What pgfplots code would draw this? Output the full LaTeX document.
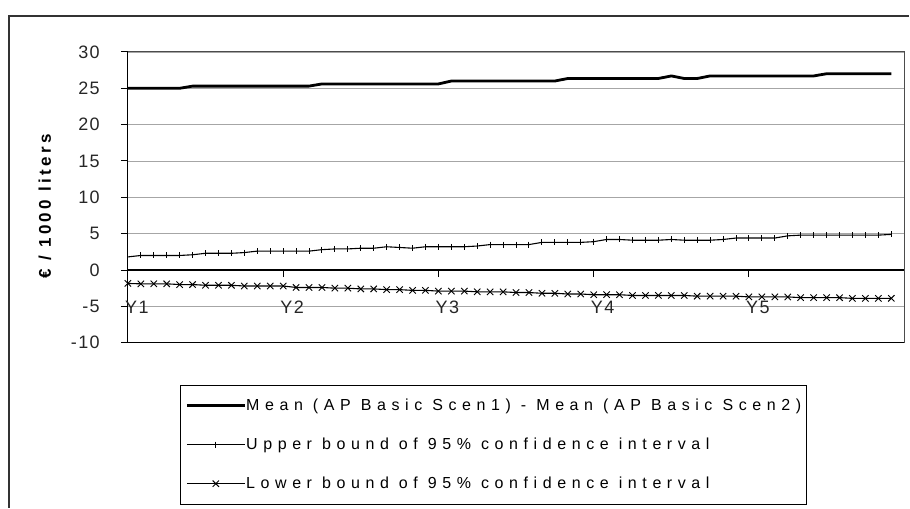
\documentclass[border=0pt]{standalone}
\usepackage{fontspec}
\setmainfont{Liberation Sans}
\newfontfamily\lsfont[LetterSpace=35]{Liberation Sans}
\newfontfamily\tkfont[LetterSpace=8]{Liberation Sans}
\newfontfamily\ylfont[LetterSpace=20]{Liberation Sans}
\usepackage{pgfplots}
\usepackage{pgfplotstable}
\pgfplotsset{compat=1.18}

\pgfplotstableread{
i mean upper lower
0 25.0 1.8 -1.85
1 25.0 2.0 -1.9
2 25.0 2.0 -1.9
3 25.0 2.0 -1.9
4 25.0 2.0 -2.0
5 25.3 2.1 -2.0
6 25.3 2.3 -2.1
7 25.3 2.3 -2.1
8 25.3 2.3 -2.1
9 25.3 2.4 -2.2
10 25.3 2.6 -2.2
11 25.3 2.6 -2.2
12 25.3 2.6 -2.2
13 25.3 2.6 -2.4
14 25.3 2.6 -2.4
15 25.6 2.8 -2.4
16 25.6 2.9 -2.5
17 25.6 2.9 -2.5
18 25.6 3.0 -2.6
19 25.6 3.0 -2.6
20 25.6 3.2 -2.7
21 25.6 3.1 -2.7
22 25.6 3.0 -2.8
23 25.6 3.2 -2.8
24 25.6 3.2 -2.9
25 26.0 3.2 -2.9
26 26.0 3.2 -2.9
27 26.0 3.3 -3.0
28 26.0 3.5 -3.0
29 26.0 3.5 -3.0
30 26.0 3.5 -3.1
31 26.0 3.5 -3.1
32 26.0 3.8 -3.2
33 26.0 3.8 -3.2
34 26.35 3.8 -3.3
35 26.35 3.8 -3.3
36 26.35 3.9 -3.4
37 26.35 4.2 -3.4
38 26.35 4.2 -3.4
39 26.35 4.1 -3.5
40 26.35 4.1 -3.5
41 26.35 4.1 -3.5
42 26.7 4.2 -3.5
43 26.35 4.1 -3.5
44 26.35 4.1 -3.6
45 26.7 4.1 -3.6
46 26.7 4.2 -3.6
47 26.7 4.4 -3.6
48 26.7 4.4 -3.7
49 26.7 4.4 -3.7
50 26.7 4.4 -3.7
51 26.7 4.7 -3.7
52 26.7 4.8 -3.8
53 26.7 4.8 -3.8
54 27.0 4.8 -3.8
55 27.0 4.8 -3.8
56 27.0 4.8 -3.9
57 27.0 4.8 -3.9
58 27.0 4.8 -3.9
59 27.0 4.9 -3.9
}\datatable

\begin{document}
\begin{tikzpicture}
\begin{axis}[
  scale only axis,
  width=777bp, height=291bp,
  xmin=0, xmax=60, ymin=-10, ymax=30,
  axis x line=middle, axis y line=left,
  hide obscured x ticks=false,
  axis line style={-, black, line width=1.2bp},
  tick align=outside,
  major tick length=7bp,
  tick style={black, line width=1bp},
  xtick={0,12,24,36,48},
  xticklabels={Y1,Y2,Y3,Y4,Y5},
  ytick={-10,-5,0,5,10,15,20,25,30},
  yticklabels={-10,-5,0,5,10,15,20,25,30},
  ymajorgrids,
  major grid style={black!35, line width=0.8bp},
  ticklabel style={font=\tkfont\fontsize{18bp}{21bp}\selectfont, text=black!85},
  yticklabel style={anchor=east, inner sep=0pt, xshift=-21bp},
  xticklabel style={anchor=north, inner sep=0pt, yshift=-24bp, xshift=9bp},
  ylabel={€ / 1000 liters},
  every axis y label/.style={at={(axis description cs:-0.107,0.47)}, rotate=90, anchor=center,
    font=\ylfont\bfseries\fontsize{17bp}{20bp}\selectfont},
  legend style={at={(axis description cs:0.0669,-0.1443)}, anchor=north west,
    draw=black, line width=1.2bp, inner xsep=5bp, inner ysep=13bp,
    row sep=24bp,
    font=\lsfont\fontsize{16bp}{18bp}\selectfont,
    nodes={inner sep=0pt, text height=12bp, text depth=3bp},
    /tikz/every even column/.style={column sep=5bp}},
  legend cell align=left,
  legend image code/.code={\draw[mark repeat=2, mark phase=2, #1] plot coordinates {(0bp,0bp) (29bp,0bp) (58bp,0bp)};},
  clip=false,
]
\coordinate (sw) at (rel axis cs:0,0);
\addplot[black, line width=2.8bp, mark=none] table[x=i, y=mean] {\datatable};
\addlegendentry{Mean (AP Basic Scen1) - Mean (AP Basic Scen2)}
\addplot[black, line width=1.1bp, mark=|, mark size=3bp, mark options={line width=1bp}] table[x=i, y=upper] {\datatable};
\addlegendentry{Upper bound of 95\% confidence interval}
\addplot[black, line width=1.1bp, mark=x, mark size=4.5bp, mark options={line width=0.9bp}] table[x=i, y=lower] {\datatable};
\addlegendentry{Lower bound of 95\% confidence interval}
\draw[black!70, line width=1bp] (rel axis cs:0,1) -- (rel axis cs:1,1) -- (rel axis cs:1,0);
\draw[black, line width=1.4bp] (rel axis cs:0,0) -- (rel axis cs:1,0);
\end{axis}
\draw[black!80, line width=1.6bp] (sw) ++(-119bp,-165bp) -- ++(0bp,492bp) -- ++(901bp,0bp);
\path (sw) ++(-128bp,-165bp) rectangle ++(910bp,508bp);
\end{tikzpicture}
\end{document}
